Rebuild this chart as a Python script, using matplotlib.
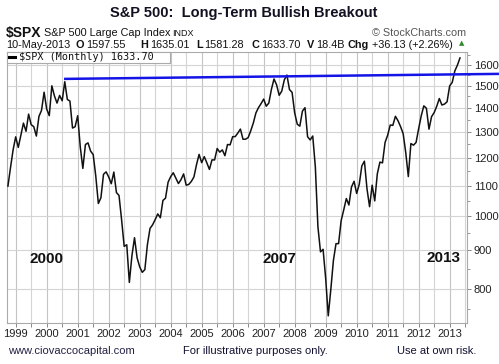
import numpy as np
import matplotlib
matplotlib.use("Agg")
import matplotlib.pyplot as plt
from matplotlib.ticker import FixedLocator, NullFormatter
from matplotlib.lines import Line2D

# ---- data: S&P 500 monthly closes, Oct 1998 - May 2013 ----
start_year, start_month = 1998, 10
closes = [
    1098.67, 1163.63, 1229.23,
    1279.64, 1238.33, 1286.37, 1335.18, 1301.84, 1372.71, 1328.72, 1320.41, 1282.71, 1362.93, 1388.91, 1469.25,
    1394.46, 1366.42, 1498.58, 1452.43, 1420.60, 1454.60, 1430.83, 1517.68, 1436.51, 1429.40, 1314.95, 1320.28,
    1366.01, 1239.94, 1160.33, 1249.46, 1255.82, 1224.42, 1211.23, 1133.58, 1040.94, 1059.78, 1139.45, 1148.08,
    1130.20, 1106.73, 1147.39, 1076.92, 1067.14, 989.82, 911.62, 916.07, 815.28, 885.76, 936.31, 879.82,
    855.70, 841.15, 848.18, 916.92, 963.59, 974.50, 990.31, 1008.01, 995.97, 1050.71, 1058.20, 1111.92,
    1131.13, 1144.94, 1126.21, 1107.30, 1120.68, 1140.84, 1101.72, 1104.24, 1114.58, 1130.20, 1173.82, 1211.92,
    1181.27, 1203.60, 1180.59, 1156.85, 1191.50, 1191.33, 1234.18, 1220.33, 1228.81, 1207.01, 1249.48, 1248.29,
    1280.08, 1280.66, 1294.83, 1310.61, 1270.09, 1270.20, 1276.66, 1303.82, 1335.85, 1377.94, 1400.63, 1418.30,
    1438.24, 1406.82, 1420.86, 1482.37, 1530.62, 1503.35, 1455.27, 1473.99, 1526.75, 1549.38, 1481.14, 1468.36,
    1378.55, 1330.63, 1322.70, 1385.59, 1400.38, 1280.00, 1267.38, 1282.83, 1166.36, 968.75, 896.24, 903.25,
    825.88, 735.09, 797.87, 872.81, 919.14, 919.32, 987.48, 1020.62, 1057.08, 1036.19, 1095.63, 1115.10,
    1073.87, 1104.49, 1169.43, 1186.69, 1089.41, 1030.71, 1101.60, 1049.33, 1141.20, 1183.26, 1180.55, 1257.64,
    1286.12, 1327.22, 1325.83, 1363.61, 1345.20, 1320.64, 1292.28, 1218.89, 1131.42, 1253.30, 1246.96, 1257.60,
    1312.41, 1365.68, 1408.47, 1397.91, 1310.33, 1362.16, 1379.32, 1406.58, 1440.67, 1412.16, 1416.18, 1426.19,
    1498.11, 1514.68, 1569.19, 1597.57, 1633.70,
]
year_labels = [str(y) for y in range(1999, 2014)]
price_ticks = [800, 900, 1000, 1100, 1200, 1300, 1400, 1500, 1600]
trend_x = [2000.56, 2014.59]
trend_y = [1531, 1555]
annotations = [("2000", 2000.0, 877), ("2007", 2007.5, 877), ("2013", 2012.8, 880)]

x = np.array([start_year + (start_month - 1 + i) / 12.0 for i in range(len(closes))])

W, H = 499, 364
fig = plt.figure(figsize=(W / 100, H / 100), dpi=100)
fig.patch.set_facecolor("white")
plt.rcParams['font.family'] = ['Liberation Sans', 'DejaVu Sans']

def fx(px):
    return px / W

def fy(py):
    return 1 - py / H

left, right, top, bottom = 6.7, 466.7, 52, 323
ax = fig.add_axes([fx(left), fy(bottom), (right - left) / W, (bottom - top) / H])
ax.set_yscale('log')
ax.set_xlim(1998.71, 2013.55)
ax.set_ylim(719, 1664)

# grid
for yv in np.arange(1999.0, 2013.51, 0.5):
    ax.axvline(yv, color='#d4d4d4' if yv % 1 else '#c4c4c4', lw=0.8, zorder=0)
for pv in price_ticks:
    ax.axhline(pv, color='#d4d4d4', lw=0.8, zorder=0)

ax.plot(x, closes, color='#111111', lw=1.1, zorder=3)
ax.plot(trend_x, trend_y, color='#1414e6', lw=1.8, zorder=4, clip_on=False,
        solid_capstyle='butt')

for txt, xv, yv in annotations:
    ax.text(xv, yv, txt, fontsize=11, fontweight='bold', ha='center', va='center',
            color='#111111', zorder=5)

# axes styling
ax.yaxis.tick_right()
ax.yaxis.set_major_locator(FixedLocator(price_ticks))
ax.yaxis.set_minor_locator(FixedLocator([750, 850, 950, 1050, 1150, 1250, 1350, 1450, 1550, 1650]))
ax.yaxis.set_major_formatter(matplotlib.ticker.FixedFormatter([str(p) for p in price_ticks]))
ax.yaxis.set_minor_formatter(NullFormatter())
ax.xaxis.set_major_locator(FixedLocator(list(range(1999, 2014))))
ax.xaxis.set_major_formatter(matplotlib.ticker.FixedFormatter(year_labels))
ax.xaxis.set_minor_locator(FixedLocator(list(np.arange(1999.5, 2013.6, 1.0))))
ax.tick_params(axis='y', which='major', labelsize=8, length=3, width=0.7, color='#888888', pad=2, labelcolor='#222222')
ax.tick_params(axis='y', which='minor', length=2, width=0.6, color='#888888')
ax.tick_params(axis='x', which='major', labelsize=8, length=3, width=0.7, color='#888888', pad=1.5, labelcolor='#222222')
ax.tick_params(axis='x', which='minor', length=3, width=0.7, color='#888888')
for s in ax.spines.values():
    s.set_color('#aaaaaa')
    s.set_linewidth(0.8)

# legend box
lx0, lx1, ly0, ly1 = 6.7, 170, 52, 62.5
leg = matplotlib.patches.Rectangle((fx(lx0), fy(ly1)), (lx1 - lx0) / W, (ly1 - ly0) / H,
                                   transform=fig.transFigure, facecolor='white',
                                   edgecolor='#aaaaaa', lw=0.8, zorder=10)
fig.patches.append(leg)
fig.lines.append(Line2D([fx(8.5), fx(15)], [fy(57.3), fy(57.3)], transform=fig.transFigure,
                        color='black', lw=2.2, zorder=11))
fig.text(fx(19), fy(57.5), "$SPX (Monthly) 1633.70", fontsize=7.3, family='DejaVu Sans Mono',
         va='center', ha='left', color='#111111', zorder=12)

# title & header
fig.text(fx(110), fy(13.5), "S&P 500:  Long-Term Bullish Breakout", fontsize=10.5,
         fontweight='bold', ha='left', va='center', color='#111122')
fig.text(fx(5.5), fy(33), "$SPX", fontsize=10, fontweight='bold', ha='left', va='center', color='#111111')
fig.text(fx(44), fy(33), "S&P 500 Large Cap Index", fontsize=7.8, ha='left', va='center', color='#111111')
fig.text(fx(172.5), fy(33.5), "INDX", fontsize=6.5, ha='left', va='center', color='#111111')
fig.text(fx(466), fy(33), "\u00a9 StockCharts.com", fontsize=7.8, ha='right', va='center', color='#555555')

hy = fy(44.5)
pieces = [
    (6, "10-May-2013", 'normal'),
    (76, "O", 'bold'), (86.5, "1597.55", 'normal'),
    (140, "H", 'bold'), (150, "1635.01", 'normal'),
    (196, "L", 'bold'), (204, "1581.28", 'normal'),
    (252, "C", 'bold'), (261.5, "1633.70", 'normal'),
    (307, "V", 'bold'), (316, "18.4B", 'normal'),
    (348, "Chg", 'bold'), (372, "+36.13 (+2.26%)", 'normal'),
]
for px, t, w in pieces:
    fig.text(fx(px), hy, t, fontsize=7.8, fontweight=w, ha='left', va='center', color='#111111')
fig.text(fx(462), fy(43.5), "\u25b2", fontsize=5, ha='center', va='center', color='#2e8b2e',
         family='DejaVu Sans')

# footer
fig.text(fx(8), fy(351), "www.ciovaccocapital.com", fontsize=8, ha='left', va='center', color='#222244')
fig.text(fx(183), fy(351), "For illustrative purposes only.", fontsize=8, ha='left', va='center', color='#111133')
fig.text(fx(397), fy(351), "Use at own risk.", fontsize=8, ha='left', va='center', color='#111133')

fig.savefig("out.png", dpi=100)
